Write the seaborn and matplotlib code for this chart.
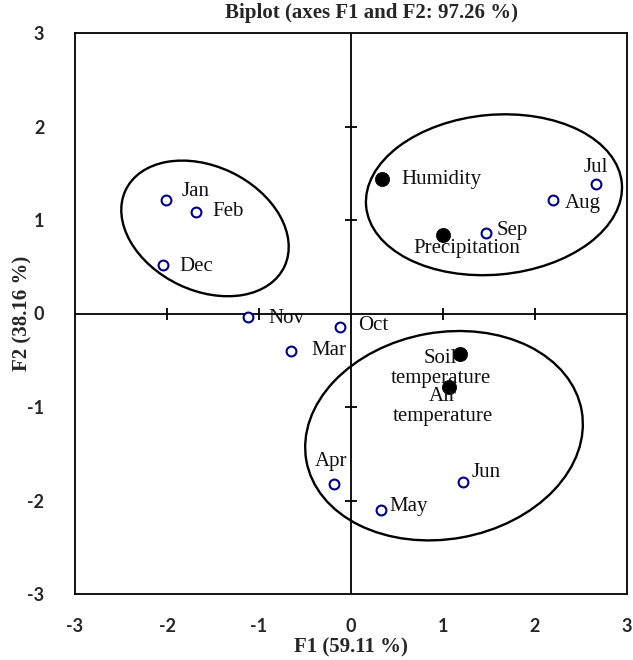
import numpy as np
import pandas as pd
import matplotlib
matplotlib.use("Agg")
import matplotlib.pyplot as plt
from matplotlib.patches import Ellipse
import seaborn as sns

# ---------------- data ----------------
months = ["Jan", "Feb", "Mar", "Apr", "May", "Jun", "Jul", "Aug", "Sep", "Oct", "Nov", "Dec"]
month_f1 = [-2.01, -1.68, -0.65, -0.18, 0.33, 1.22, 2.66, 2.20, 1.47, -0.12, -1.12, -2.04]
month_f2 = [1.21, 1.09, -0.40, -1.82, -2.10, -1.80, 1.38, 1.21, 0.86, -0.14, -0.04, 0.52]

variables = ["Humidity", "Precipitation", "Soil\ntemperature", "Air\ntemperature"]
var_f1 = [0.34, 1.00, 1.19, 1.065]
var_f2 = [1.44, 0.84, -0.43, -0.79]

tick_values = [-3, -2, -1, 0, 1, 2, 3]
title = "Biplot (axes F1 and F2: 97.26 %)"
xlabel = "F1 (59.11 %)"
ylabel = "F2 (38.16 %)"

# ---------------- layout / style ----------------
# label offsets in pixels (dx, dy up) and horizontal alignment
label_style = {
    "Jan": (16, 9, "left"), "Feb": (16, 0, "left"), "Dec": (16, -2, "left"),
    "Nov": (20, -1, "left"), "Oct": (18, 1, "left"), "Mar": (20, 0, "left"),
    "Sep": (10, 3, "left"), "Aug": (11, -3, "left"), "Jul": (0, 17, "center"),
    "Apr": (-3, 22, "center"), "May": (8, 3, "left"), "Jun": (8, 9, "left"),
    "Humidity": (19, -1, "left"), "Precipitation": (24, -14, "center"),
    "Soil\ntemperature": (-20, -15, "center"), "Air\ntemperature": (-6, -19, "center"),
}
# group ellipses: center (data), width, height (data), angle
ellipses = [
    ((-1.587, 0.91), 1.91, 1.33, -25),
    ((1.554, 1.27), 2.79, 1.71, 5),
    ((1.011, -1.307), 3.04, 2.21, 10),
]

sns.set_style("white")
plt.rcParams["font.family"] = ["Liberation Serif", "DejaVu Serif"]

DPI = 100
fig = plt.figure(figsize=(6.33, 6.6), dpi=DPI)
ax = fig.add_axes([75 / 633, 1 - 594 / 660, 552 / 633, 561 / 660])

ax.set_xlim(-3, 3)
ax.set_ylim(-3, 3)

# cross through origin
ax.axhline(0, color="black", lw=1.3, zorder=1)
ax.axvline(0, color="black", lw=1.3, zorder=1)
inner = [t for t in tick_values if t not in (-3, 0, 3)]
ax.plot(inner, [0] * len(inner), ls="none", marker="|", ms=9, mew=1.3, color="black", zorder=1)
ax.plot([0] * len(inner), inner, ls="none", marker="_", ms=9, mew=1.3, color="black", zorder=1)

for (c, w, h, a) in ellipses:
    ax.add_patch(Ellipse(c, w, h, angle=a, fill=False, edgecolor="black", lw=1.7, zorder=2))

df_m = pd.DataFrame({"F1": month_f1, "F2": month_f2, "label": months})
df_v = pd.DataFrame({"F1": var_f1, "F2": var_f2, "label": variables})

sns.scatterplot(data=df_m, x="F1", y="F2", ax=ax, s=50, color="white",
                edgecolor="#000080", linewidth=1.5, zorder=4, legend=False)
sns.scatterplot(data=df_v, x="F1", y="F2", ax=ax, s=105, color="black",
                edgecolor="black", linewidth=0.5, zorder=4, legend=False)

px2pt = 72 / DPI
for df in (df_m, df_v):
    for _, r in df.iterrows():
        dx, dy, ha = label_style[r["label"]]
        ax.annotate(r["label"], (r["F1"], r["F2"]), xytext=(dx * px2pt, dy * px2pt),
                    textcoords="offset points", ha=ha, va="center", fontsize=15,
                    linespacing=1.05, color="#111111", zorder=5)

# outer frame and tick labels
for sp in ax.spines.values():
    sp.set_visible(True)
    sp.set_color("black")
    sp.set_linewidth(1.3)
ax.set_xticks(tick_values)
ax.set_yticks(tick_values)
ax.set_xticklabels([str(t) for t in tick_values])
ax.set_yticklabels([str(t) for t in tick_values])
ax.tick_params(axis="both", length=0, labelsize=13)
ax.tick_params(axis="x", pad=17)
ax.tick_params(axis="y", pad=22)
for lab in ax.get_xticklabels() + ax.get_yticklabels():
    lab.set_fontfamily(["Lato", "DejaVu Sans"])
    lab.set_fontweight("bold")

ax.set_xlabel(xlabel, fontsize=15, fontweight="bold", labelpad=2)
ax.set_ylabel(ylabel, fontsize=15, fontweight="bold", labelpad=-4)
fig.text(371.5 / 633, 1 - 13 / 660, title, ha="center", va="center",
         fontsize=15, fontweight="bold")

fig.savefig("out.png", dpi=DPI)
